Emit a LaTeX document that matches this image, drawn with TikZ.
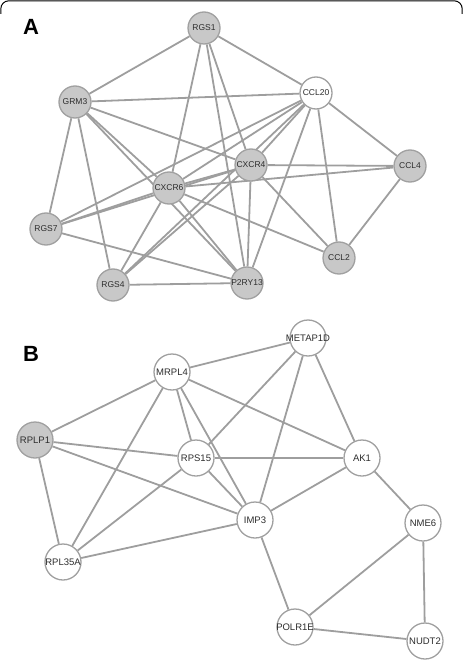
\documentclass[tikz,border=0pt]{standalone}
\usepackage{fontspec}
\setmainfont{Liberation Sans}
\usepackage{tikz}
\usetikzlibrary{backgrounds}
\definecolor{hitgray}{RGB}{200,200,200}
\definecolor{rimgray}{RGB}{160,160,160}
\definecolor{linkgray}{RGB}{158,158,158}
\definecolor{txtgray}{RGB}{45,45,45}
\tikzset{
  gene/.style  ={circle,draw=rimgray,line width=1.3pt,minimum size=32pt,inner sep=-6pt,
                 font=\fontsize{8.5}{9}\selectfont,text=txtgray},
  hit/.style   ={gene,fill=hitgray},
  other/.style ={gene,fill=white},
  bgene/.style ={minimum size=36pt,font=\fontsize{9.5}{10}\selectfont},
  link/.style  ={draw=linkgray,line width=1.8pt},
  panel/.style ={font=\fontsize{22}{22}\selectfont\bfseries},
}

\begin{document}
\begin{tikzpicture}[x=1pt,y=-1pt]
  \useasboundingbox (0,0) rectangle (463,663);
  \draw[line width=1pt,rounded corners=8pt] (0.8,14) -- (0.8,0.8) -- (462.2,0.8) -- (462.2,14);

  % A: network of the gray hub genes
  \node[panel] (labA) at (31,27) {A};
  \node[hit]   (rgs1)   at (204,28)  {RGS1};
  \node[other] (ccl20)  at (316,93)  {CCL20};
  \node[hit]   (grm3)   at (75,102)  {GRM3};
  \node[hit]   (cxcr4)  at (251,165) {CXCR4};
  \node[hit]   (ccl4)   at (410,166) {CCL4};
  \node[hit]   (cxcr6)  at (169,188) {CXCR6};
  \node[hit]   (rgs7)   at (46,229)  {RGS7};
  \node[hit]   (ccl2)   at (339,258) {CCL2};
  \node[hit]   (rgs4)   at (113,285) {RGS4};
  \node[hit]   (p2ry13) at (247,283) {P2RY13};
  \begin{scope}[on background layer]
    \foreach \a/\b in {rgs1/grm3,rgs1/ccl20,rgs1/cxcr6,rgs1/cxcr4,rgs1/p2ry13,
                       grm3/ccl20,grm3/cxcr4,grm3/cxcr6,grm3/p2ry13,grm3/rgs7,grm3/rgs4,
                       ccl20/ccl4,ccl20/ccl2,ccl20/p2ry13,ccl20/cxcr4,ccl20/cxcr6,ccl20/rgs7,ccl20/rgs4,
                       cxcr4/ccl4,cxcr4/cxcr6,cxcr4/rgs7,cxcr4/rgs4,cxcr4/p2ry13,cxcr4/ccl2,
                       cxcr6/ccl4,cxcr6/ccl2,cxcr6/p2ry13,cxcr6/rgs7,cxcr6/rgs4,
                       ccl4/ccl2,rgs7/p2ry13,rgs4/p2ry13}
      \draw[link] (\a) -- (\b);
  \end{scope}

  % B: network round RPLP1
  \node[panel] (labB) at (31,354) {B};
  \node[other,bgene] (metap1d) at (308,338) {METAP1D};
  \node[other,bgene] (mrpl4)   at (172,372) {MRPL4};
  \node[hit,bgene]   (rplp1)   at (35,440)  {RPLP1};
  \node[other,bgene] (rps15)   at (196,458) {RPS15};
  \node[other,bgene] (ak1)     at (362,458) {AK1};
  \node[other,bgene] (imp3)    at (255,520) {IMP3};
  \node[other,bgene] (nme6)    at (423,523) {NME6};
  \node[other,bgene] (rpl35a)  at (63,562)  {RPL35A};
  \node[other,bgene] (polr1e)  at (295,627) {POLR1E};
  \node[other,bgene] (nudt2)   at (425,641) {NUDT2};
  \begin{scope}[on background layer]
    \foreach \a/\b in {metap1d/mrpl4,metap1d/rps15,metap1d/imp3,metap1d/ak1,
                       mrpl4/rplp1,mrpl4/rps15,mrpl4/imp3,mrpl4/ak1,mrpl4/rpl35a,
                       rplp1/rps15,rplp1/imp3,rplp1/rpl35a,
                       rps15/ak1,rps15/imp3,rps15/rpl35a,
                       ak1/imp3,ak1/nme6,imp3/polr1e,imp3/rpl35a,
                       nme6/polr1e,nme6/nudt2,polr1e/nudt2}
      \draw[link] (\a) -- (\b);
  \end{scope}
\end{tikzpicture}
\end{document}
